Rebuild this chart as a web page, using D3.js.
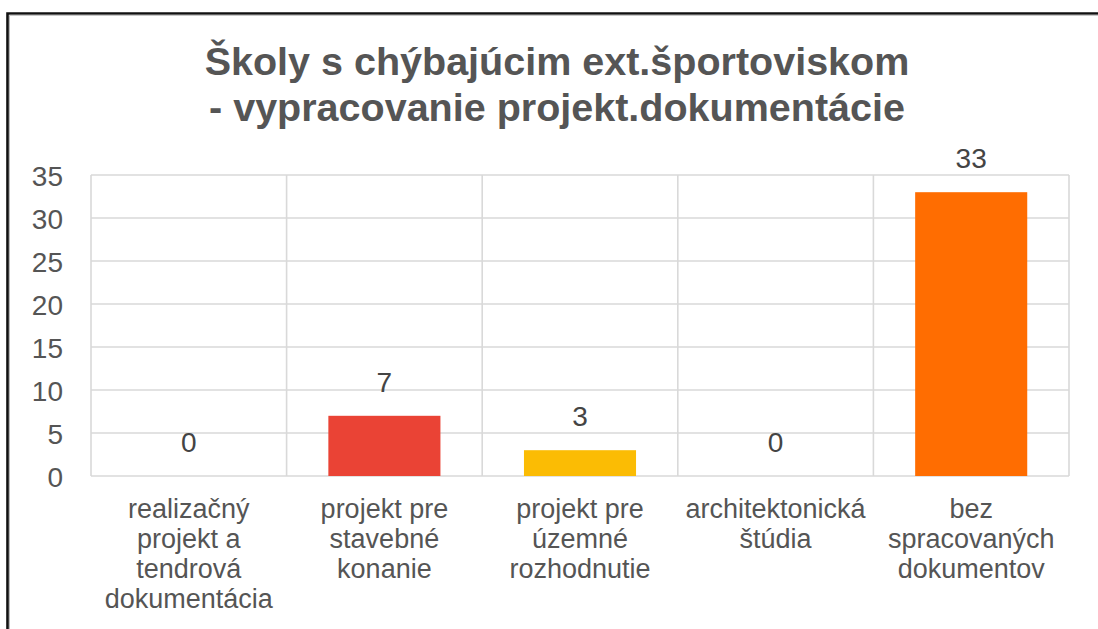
<!DOCTYPE html>
<html>
<head>
<meta charset="utf-8">
<script src="https://cdn.jsdelivr.net/npm/d3@7/dist/d3.min.js"></script>
<style>
  html, body { margin: 0; padding: 0; background: #fff; }
  svg { display: block; }
  text { font-family: "Liberation Sans", Arial, sans-serif; }
</style>
</head>
<body>
<svg id="chart" width="1098" height="629"></svg>
<script>
// ---- data ----
const titleLines = ["Školy s chýbajúcim ext.športoviskom", "- vypracovanie projekt.dokumentácie"];
const categories = ["realizačný projekt a tendrová dokumentácia", "projekt pre stavebné konanie", "projekt pre územné rozhodnutie", "architektonická štúdia", "bez spracovaných dokumentov"];
const categoryLines = [
  ["realizačný", "projekt a", "tendrová", "dokumentácia"],
  ["projekt pre", "stavebné", "konanie"],
  ["projekt pre", "územné", "rozhodnutie"],
  ["architektonická", "štúdia"],
  ["bez", "spracovaných", "dokumentov"]
];
const values = [0, 7, 3, 0, 33];
const barColors = ["#EA4335", "#EA4335", "#FBBC04", "#34A853", "#FF6D01"];
const yTicks = [0, 5, 10, 15, 20, 25, 30, 35];

// ---- layout ----
const svg = d3.select("#chart");
const pLeft = 91, pRight = 1069, pTop = 175, pBottom = 476;

const xGrid = d3.scaleBand().domain(categories).range([pLeft, pRight]).padding(0);
const xBar = d3.scaleBand().domain(categories).range([pLeft, pRight]).paddingInner(0.427).paddingOuter(0.2135);
const y = d3.scaleLinear().domain([0, 35]).range([pBottom, pTop]);

// frame
svg.append("path")
  .attr("d", `M7.5,640 V13.5 H1110`)
  .attr("fill", "none").attr("stroke", "#111").attr("stroke-width", 2.6);
svg.append("path")
  .attr("d", `M9.5,640 V15.3 H1110`)
  .attr("fill", "none").attr("stroke", "#bbb").attr("stroke-width", 1);

// title
const title = svg.append("text")
  .attr("x", 557).attr("y", 75)
  .attr("text-anchor", "middle")
  .attr("font-size", 39.5).attr("font-weight", "bold")
  .attr("fill", "#555");
titleLines.forEach((t, i) => {
  title.append("tspan").attr("x", 557).attr("y", 75 + i * 46).text(t);
});

// horizontal grid
svg.append("g").selectAll("line").data(yTicks).join("line")
  .attr("x1", pLeft).attr("x2", pRight)
  .attr("y1", d => y(d)).attr("y2", d => y(d))
  .attr("stroke", "#d9d9d9").attr("stroke-width", 1.6);

// vertical grid
const vx = categories.map(c => xGrid(c)).concat([pRight]);
svg.append("g").selectAll("line").data(vx).join("line")
  .attr("x1", d => d).attr("x2", d => d)
  .attr("y1", pTop).attr("y2", pBottom)
  .attr("stroke", "#d9d9d9").attr("stroke-width", 1.6);

// y axis labels
const yAxis = d3.axisLeft(y).tickValues(yTicks).tickSize(0).tickPadding(0);
const ya = svg.append("g").attr("transform", `translate(63,0)`).call(yAxis);
ya.select(".domain").remove();
ya.selectAll("text")
  .attr("font-family", "Liberation Sans, Arial, sans-serif")
  .attr("font-size", 28).attr("fill", "#555").attr("dy", "0.36em");

// bars
svg.append("g").selectAll("rect").data(values).join("rect")
  .attr("x", (d, i) => xBar(categories[i]))
  .attr("width", xBar.bandwidth())
  .attr("y", d => y(d))
  .attr("height", d => pBottom - y(d))
  .attr("fill", (d, i) => barColors[i]);

// data labels
svg.append("g").selectAll("text").data(values).join("text")
  .attr("x", (d, i) => xBar(categories[i]) + xBar.bandwidth() / 2)
  .attr("y", d => y(d) - 24)
  .attr("text-anchor", "middle")
  .attr("font-size", 28).attr("fill", "#444")
  .text(d => d);

// category labels
const cl = svg.append("g").selectAll("text").data(categoryLines).join("text")
  .attr("text-anchor", "middle")
  .attr("font-size", 27).attr("fill", "#555");
cl.each(function(lines, i) {
  const cx = xGrid(categories[i]) + xGrid.bandwidth() / 2;
  d3.select(this).selectAll("tspan").data(lines).join("tspan")
    .attr("x", cx).attr("y", (d, j) => 518 + j * 30).text(d => d);
});
</script>
</body>
</html>
